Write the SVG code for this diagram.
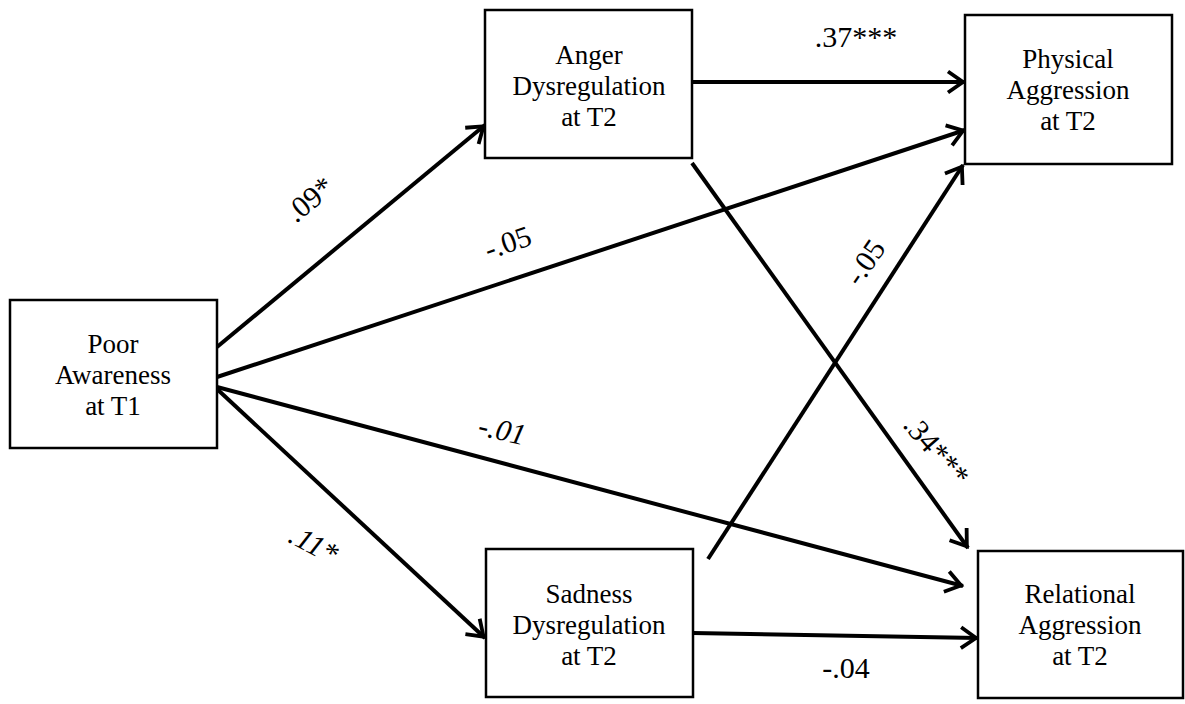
<svg xmlns="http://www.w3.org/2000/svg" width="1185" height="704" viewBox="0 0 1185 704">
<style>
.box{fill:#fff;stroke:#000;stroke-width:2.5}
.nt{font-family:"Liberation Serif","Times New Roman",serif;font-size:27px;text-anchor:middle;fill:#000}
.lb{font-family:"Liberation Serif","Times New Roman",serif;font-size:30px;text-anchor:middle;fill:#000}
.it{font-style:italic}
.cn{stroke:#000;stroke-width:4;fill:none;marker-end:url(#arr)}
</style>
<defs>
<marker id="arr" markerUnits="userSpaceOnUse" markerWidth="40" markerHeight="40" viewBox="-20 -20 40 40" refX="0" refY="0" orient="auto" overflow="visible">
<path d="M-17,-10.5 L-2,0 L-17,10.5" fill="none" stroke="#000" stroke-width="3.8"/>
</marker>
</defs>
<rect width="1185" height="704" fill="#fff"/>
<g id="connectors">
<line class="cn" x1="217" y1="347" x2="485" y2="125"/>
<line class="cn" x1="217" y1="377" x2="965" y2="130"/>
<line class="cn" x1="217" y1="387" x2="963" y2="586"/>
<line class="cn" x1="217" y1="389" x2="485" y2="638"/>
<line class="cn" x1="692" y1="82" x2="965" y2="82"/>
<line class="cn" x1="692" y1="163" x2="968" y2="548"/>
<line class="cn" x1="708" y1="559" x2="963" y2="165"/>
<line class="cn" x1="693" y1="633" x2="978" y2="638"/>
</g>
<g id="labels">
<text class="lb" x="856" y="47">.37***</text>
<text class="lb" transform="translate(316,207) rotate(-40)">.09*</text>
<text class="lb" transform="translate(511,252) rotate(-19)">-.05</text>
<text class="lb it" transform="translate(500,440) rotate(13)">-.01</text>
<text class="lb it" transform="translate(309,553) rotate(28)">.11*</text>
<text class="lb" transform="translate(929,457) rotate(49)">.34***</text>
<text class="lb" transform="translate(873,268) rotate(-55)">-.05</text>
<text class="lb" x="846" y="678">-.04</text>
</g>
<g id="poor">
<rect class="box" x="10" y="300" width="207" height="148"/>
<text class="nt" x="113" y="353">Poor</text>
<text class="nt" x="113" y="384">Awareness</text>
<text class="nt" x="113" y="415">at T1</text>
</g>
<g id="anger">
<rect class="box" x="485" y="10" width="207" height="148"/>
<text class="nt" x="589" y="64">Anger</text>
<text class="nt" x="589" y="95">Dysregulation</text>
<text class="nt" x="589" y="126">at T2</text>
</g>
<g id="physical">
<rect class="box" x="965" y="15" width="207" height="149"/>
<text class="nt" x="1068" y="68">Physical</text>
<text class="nt" x="1068" y="99">Aggression</text>
<text class="nt" x="1068" y="130">at T2</text>
</g>
<g id="sadness">
<rect class="box" x="486" y="549" width="207" height="148"/>
<text class="nt" x="589" y="603">Sadness</text>
<text class="nt" x="589" y="634">Dysregulation</text>
<text class="nt" x="589" y="665">at T2</text>
</g>
<g id="relational">
<rect class="box" x="978" y="551" width="205" height="147"/>
<text class="nt" x="1080" y="603">Relational</text>
<text class="nt" x="1080" y="634">Aggression</text>
<text class="nt" x="1080" y="665">at T2</text>
</g>
</svg>
